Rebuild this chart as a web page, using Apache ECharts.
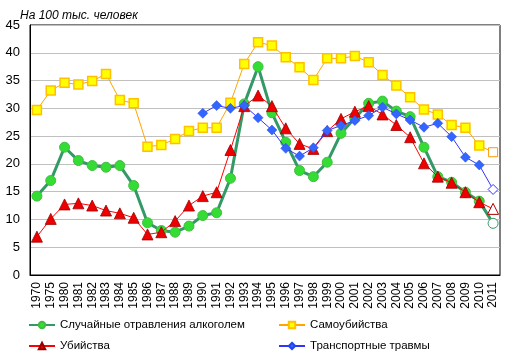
<!DOCTYPE html>
<html><head><meta charset="utf-8">
<script src="https://cdn.jsdelivr.net/npm/echarts@6/dist/echarts.min.js"></script>
<style>html,body{margin:0;padding:0;background:#fff}#c{width:516px;height:360px}</style>
</head><body><div id="c"></div>
<script>
var years = ['1970','1975','1980','1981','1982','1983','1984','1985','1986','1987','1988','1989','1990','1991','1992','1993','1994','1995','1996','1997','1998','1999','2000','2001','2002','2003','2004','2005','2006','2007','2008','2009','2010','2011'];
var alcohol = [14.2,17.0,23.0,20.6,19.7,19.4,19.7,16.1,9.4,8.0,7.7,8.8,10.7,11.2,17.4,30.8,37.5,29.2,23.9,18.8,17.7,20.3,25.5,28.2,30.9,31.3,29.5,28.5,23.0,17.7,16.7,14.9,13.3,9.3];
var suicide = [29.7,33.2,34.6,34.3,34.9,36.2,31.5,30.9,23.1,23.4,24.5,25.9,26.5,26.5,31.0,38.0,41.9,41.3,39.2,37.4,35.1,39.0,39.0,39.4,38.3,36.0,34.1,32.0,29.8,28.9,27.0,26.5,23.3,22.1];
var homicide = [6.9,10.1,12.7,12.9,12.5,11.6,11.1,10.3,7.3,7.7,9.7,12.5,14.2,14.9,22.5,30.4,32.3,30.4,26.4,23.6,22.7,25.9,28.1,29.4,30.4,28.9,27.0,24.8,20.1,17.7,16.6,14.9,13.1,11.9];
var transport = [null,null,null,null,null,null,null,null,null,null,null,null,29.1,30.5,30.0,30.5,28.3,26.1,22.8,21.4,22.9,26.0,26.9,27.8,28.7,30.2,29.0,27.9,26.6,27.3,24.9,21.2,19.8,15.4];
var yTicks = [0,5,10,15,20,25,30,35,40,45];
var names = ['Случайные отравления алкоголем','Самоубийства','Убийства','Транспортные травмы'];

function withHollowLast(arr, border) {
  return arr.map(function(v, i) {
    if (i === arr.length - 1) {
      return {value: v, itemStyle: {color: '#ffffff', borderColor: border, borderWidth: 1}};
    }
    return v;
  });
}
var font = 'Liberation Sans, Arial, sans-serif';
var chart = echarts.init(document.getElementById('c'));
chart.setOption({
  animation: false,
  textStyle: {fontFamily: font},
  title: {text: 'На 100 тыс. человек', left: 15, top: 5,
    textStyle: {fontSize: 12, fontStyle: 'italic', fontWeight: 'normal', color: '#000', fontFamily: font}},
  grid: {left: 30, right: 16, top: 25, bottom: 85, show: true, borderColor: '#000', borderWidth: 1},
  legend: [
    {data: [names[0], names[2]], orient: 'vertical', left: 23, top: 314, itemWidth: 26, itemHeight: 8, itemGap: 9,
      textStyle: {fontSize: 11.5, color: '#000', fontFamily: font}},
    {data: [names[1], names[3]], orient: 'vertical', left: 273, top: 314, itemWidth: 26, itemHeight: 8, itemGap: 9,
      textStyle: {fontSize: 11.5, color: '#000', fontFamily: font}}
  ],
  xAxis: {type: 'category', data: years, boundaryGap: true,
    axisLine: {lineStyle: {color: '#000'}}, axisTick: {show: false},
    axisLabel: {rotate: 90, interval: 0, fontSize: 12, color: '#000', margin: 7, fontFamily: font}},
  yAxis: {type: 'value', min: 0, max: 45, interval: 5,
    axisLine: {show: true, lineStyle: {color: '#000'}}, axisTick: {show: false},
    axisLabel: {fontSize: 13, color: '#000', margin: 10, fontFamily: font,
      formatter: function(v){ return yTicks.indexOf(v) >= 0 ? String(v) : ''; }},
    splitLine: {lineStyle: {color: '#c0c0c0', width: 1}}},
  series: [
    {name: names[0], type: 'line', data: withHollowLast(alcohol, '#339966'), symbol: 'circle', symbolSize: 10,
      lineStyle: {color: '#339966', width: 3}, itemStyle: {color: '#33dd33', borderColor: '#44bb44', borderWidth: 1}, z: 2},
    {name: names[1], type: 'line', data: withHollowLast(suicide, '#ff9900'), symbol: 'rect', symbolSize: 9,
      lineStyle: {color: '#ffa500', width: 1}, itemStyle: {color: '#ffff00', borderColor: '#ffc000', borderWidth: 1.5}, z: 3},
    {name: names[2], type: 'line', data: withHollowLast(homicide, '#aa0000'), symbol: 'triangle', symbolSize: 11,
      lineStyle: {color: '#ff0000', width: 1}, itemStyle: {color: '#ee0000', borderColor: '#990000', borderWidth: 0.8}, z: 4},
    {name: names[3], type: 'line', data: withHollowLast(transport, '#3333ff'), symbol: 'diamond', symbolSize: 10,
      lineStyle: {color: '#3333ff', width: 1}, itemStyle: {color: '#3366ff', borderColor: '#2244ee', borderWidth: 0.5}, z: 5}
  ]
});
</script></body></html>
